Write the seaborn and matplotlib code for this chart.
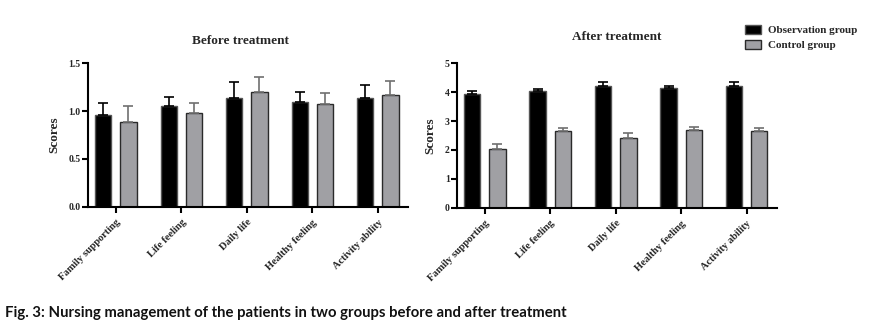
import numpy as np
import pandas as pd
import matplotlib
matplotlib.use("Agg")
import matplotlib.pyplot as plt
import seaborn as sns
from matplotlib.patches import Patch

categories = ["Family supporting", "Life feeling", "Daily life", "Healthy feeling", "Activity ability"]
groups = ["Observation group", "Control group"]

before_obs = [0.96, 1.05, 1.14, 1.10, 1.14]
before_obs_err = [0.12, 0.10, 0.16, 0.10, 0.13]
before_ctrl = [0.89, 0.98, 1.20, 1.07, 1.17]
before_ctrl_err = [0.16, 0.10, 0.16, 0.12, 0.15]

after_obs = [3.94, 4.04, 4.21, 4.15, 4.21]
after_obs_err = [0.11, 0.08, 0.13, 0.08, 0.15]
after_ctrl = [2.04, 2.67, 2.41, 2.68, 2.64]
after_ctrl_err = [0.15, 0.10, 0.16, 0.13, 0.13]

before_ticks = [0.0, 0.5, 1.0, 1.5]
before_ticklabels = ["0.0", "0.5", "1.0", "1.5"]
after_ticks = [0, 1, 2, 3, 4, 5]
after_ticklabels = ["0", "1", "2", "3", "4", "5"]

colors = {"Observation group": "#000000", "Control group": "#a0a0a4"}
edges = {"Observation group": "#555555", "Control group": "#2a2a2a"}
errcolors = {"Observation group": "#000000", "Control group": "#707070"}

sns.set_theme(style="white")
plt.rcParams["font.family"] = ["Liberation Serif", "DejaVu Serif"]
plt.rcParams["font.weight"] = "bold"

fig = plt.figure(figsize=(8.83, 3.23), dpi=100)
W, H = 883, 323
ax1 = fig.add_axes([87.7 / W, 1 - 206.7 / H, (408 - 87.7) / W, (206.7 - 63.3) / H])
ax2 = fig.add_axes([456.7 / W, 1 - 207.7 / H, (776.7 - 456.7) / W, (207.7 - 63.3) / H])


def draw(ax, obs, obs_err, ctrl, ctrl_err, ticks, ticklabels, ylim):
    df = pd.DataFrame({
        "category": categories * 2,
        "group": [groups[0]] * 5 + [groups[1]] * 5,
        "value": list(obs) + list(ctrl),
        "err": list(obs_err) + list(ctrl_err),
    })
    sns.barplot(data=df, x="category", y="value", hue="group", order=categories,
                hue_order=groups, palette=colors, width=0.77, gap=0.35,
                errorbar=None, legend=False, ax=ax, linewidth=1.0, edgecolor="#333333")
    for gi, g in enumerate(groups):
        cont = ax.containers[gi]
        sub = df[df["group"] == g].set_index("category").loc[categories]
        xs = []
        for bar in cont:
            bar.set_edgecolor(edges[g])
            xs.append(bar.get_x() + bar.get_width() / 2)
        ax.errorbar(xs, sub["value"].values, yerr=[np.zeros(5), sub["err"].values],
                    fmt="none", ecolor=errcolors[g], elinewidth=1.2, capsize=3.6,
                    capthick=1.2, zorder=1)
    ax.set_xlim(-0.43, 4.46)
    ax.set_ylim(*ylim)
    ax.set_yticks(ticks)
    ax.set_yticklabels(ticklabels, fontsize=7, fontweight="bold")
    ax.set_xticks(range(5))
    ax.set_xticklabels(categories, rotation=45, ha="right", rotation_mode="anchor",
                       fontsize=7.5, fontweight="bold")
    ax.set_xlabel("")
    ax.set_ylabel("Scores", fontsize=9.5, fontweight="bold", labelpad=6)
    for s in ["top", "right"]:
        ax.spines[s].set_visible(False)
    for s in ["left", "bottom"]:
        ax.spines[s].set_color("black")
        ax.spines[s].set_linewidth(1.5)
    ax.tick_params(axis="both", which="both", direction="out", length=4, width=1.5,
                   color="black", pad=1, left=True, bottom=True)
    ax.tick_params(axis="x", pad=4)
    ax.set_facecolor("white")


draw(ax1, before_obs, before_obs_err, before_ctrl, before_ctrl_err,
     before_ticks, before_ticklabels, (0, 1.5))
draw(ax2, after_obs, after_obs_err, after_ctrl, after_ctrl_err,
     after_ticks, after_ticklabels, (0, 5))

fig.text(240 / W, 1 - 41 / H, "Before treatment", ha="center", va="center",
         fontsize=9.5, fontweight="bold")
fig.text(617 / W, 1 - 37 / H, "After treatment", ha="center", va="center",
         fontsize=9.5, fontweight="bold")

handles = [Patch(facecolor=colors[g], edgecolor=edges[g], linewidth=1.0) for g in groups]
fig.legend(handles, groups, loc="upper left", bbox_to_anchor=(745 / W, 1 - 25 / H),
           frameon=False, prop={"family": "Liberation Serif", "weight": "bold", "size": 8},
           handlelength=1.4, handleheight=0.9, handletextpad=0.7, labelspacing=0.4,
           borderaxespad=0, borderpad=0)

fig.text(5 / W, 1 - 313 / H,
         "Fig. 3: Nursing management of the patients in two groups before and after treatment",
         ha="left", va="center", fontsize=10.7, fontweight="bold", family=["Lato", "DejaVu Sans"],
         color="#111111")

fig.savefig("out.png", dpi=100, facecolor="white")
